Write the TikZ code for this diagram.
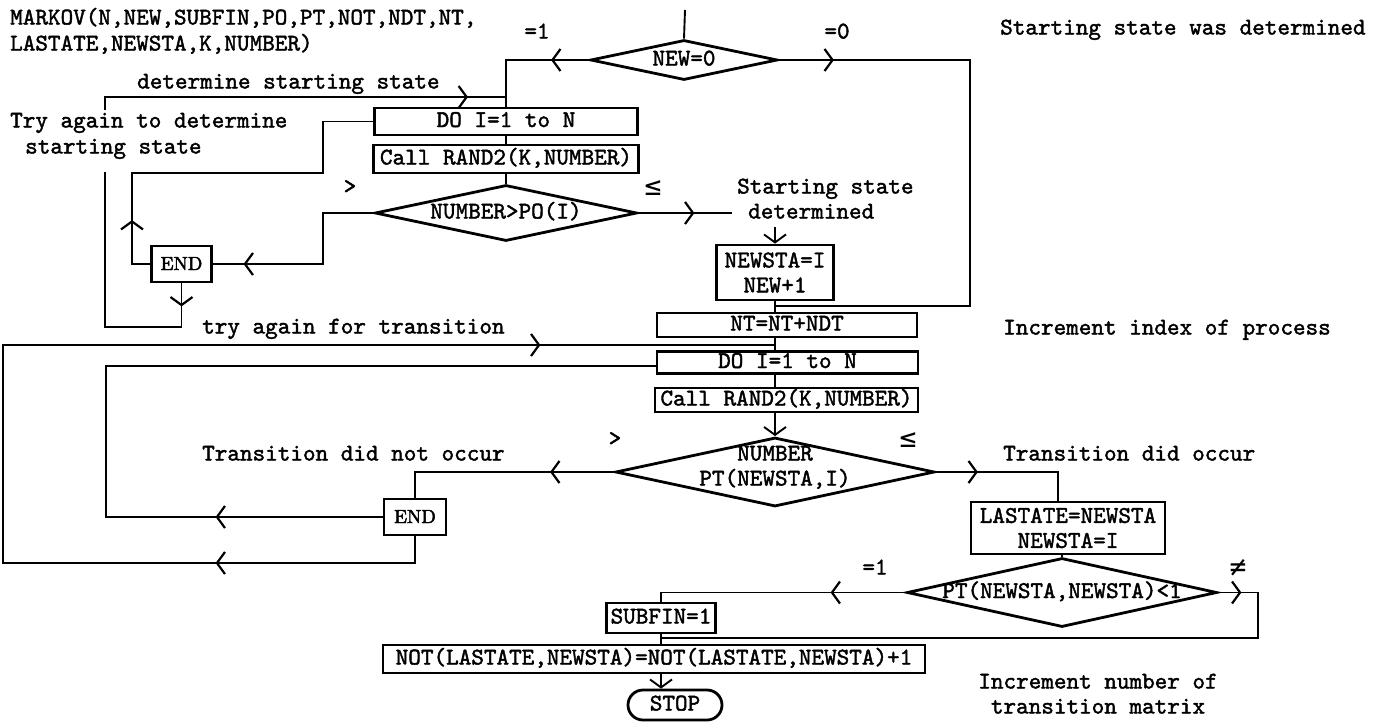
\documentclass[tikz,border=0pt]{standalone}
\usepackage{fontspec}
\usetikzlibrary{shapes.geometric,arrows.meta,decorations.markings}
\newfontfamily\mytypf{lmmono10-regular.otf}[FakeBold=1.7]
\newfontfamily\myromf{lmroman10-regular.otf}[FakeBold=2.5]
\newfontfamily\mysymf{DejaVu Sans Mono}
\newcommand\mytt{\mytypf\fontsize{24}{25}\selectfont}
\newcommand\myrm{\myromf\fontsize{19}{20}\selectfont}
\newcommand\mysym{\mysymf\fontsize{28}{29}\selectfont}
\tikzset{
  ln/.style={line width=1.9pt},
  box/.style={draw,line width=2.8pt,inner sep=0pt,font=\mytt},
  boxone/.style={box,text height=15pt,text depth=4pt},
  endbox/.style={draw,line width=2.8pt,inner sep=0pt,font=\myrm,text height=13pt,text depth=1pt,minimum width=60pt,minimum height=36pt},
  lbl/.style={inner sep=0pt,font=\mytt,text height=15pt,text depth=4pt},
  symlbl/.style={inner sep=0pt,font=\mysym},
  dia/.style={draw,diamond,line width=2.8pt,inner sep=0pt},
  chev/.style={postaction={decorate,decoration={markings,mark=at position #1 with {\arrow{Straight Barb[length=8pt,width=22pt,line width=2.2pt]}}}}},
  tipd/.style={-{Straight Barb[length=8pt,width=22pt]}}
}
\begin{document}
\begin{tikzpicture}[x=1pt,y=-1pt]
\useasboundingbox (0,0) rectangle (1376,721);
% ---------- labels
\node[lbl,anchor=west] (hdr1) at (10,19) {MARKOV(N,NEW,SUBFIN,PO,PT,NOT,NDT,NT,};
\node[lbl,anchor=west] (hdr2) at (10,45) {LASTATE,NEWSTA,K,NUMBER)};
\node[lbl] (eqa) at (537,33) {=1};
\node[lbl] (eqb) at (837,33) {=0};
\node[lbl,anchor=west] (swd) at (1000,29) {Starting state was determined};
\node[lbl,anchor=west] (dss) at (137,83) {determine starting state};
\node[lbl,anchor=west] (traa) at (10,122) {Try again to determine};
\node[lbl,anchor=west] (trab) at (25,148) {starting state};
\node[lbl] (gta) at (350,188) {>};
\node[symlbl] (lea) at (653,188) {≤};
\node[lbl,anchor=west] (sda) at (737,188) {Starting state};
\node[lbl,anchor=west] (sdb) at (748,213) {determined};
\node[lbl,anchor=west] (tat) at (202,328) {try again for transition};
\node[lbl,anchor=west] (iip) at (1003,329) {Increment index of process};
\node[lbl,anchor=west] (tdno) at (202,455) {Transition did not occur};
\node[lbl] (gtb) at (615,440) {>};
\node[symlbl] (leb) at (908,440) {≤};
\node[lbl,anchor=west] (tdo) at (1003,455) {Transition did occur};
\node[lbl] (eqc) at (875,569) {=1};
\node[symlbl] (neq) at (1238,568) {≠};
\node[lbl] (inma) at (1098,683) {Increment number of};
\node[lbl] (inmb) at (1098,708) {transition matrix};
% ---------- shapes
\coordinate (top) at (685,10);
\node[dia,minimum width=187pt,minimum height=40pt] (d0) at (684,60) {};
\node[lbl] (d0t) at (d0) {NEW=0};
\node[boxone,minimum width=263pt,minimum height=27pt] (do1) at (506,121.5) {DO I=1 to N};
\node[boxone,minimum width=265pt,minimum height=28pt] (call1) at (506,159) {Call RAND2(K,NUMBER)};
\node[dia,minimum width=262pt,minimum height=56pt] (d1) at (506,213) {};
\node[lbl] (d1t) at (d1) {NUMBER>PO(I)};
\node[endbox] (end1) at (181.5,264) {END};
\node[box,align=center,minimum width=117pt,minimum height=55pt] (newsta) at (775,272.5) {NEWSTA=I\\NEW+1};
\node[boxone,minimum width=260pt,minimum height=24pt] (nt) at (787,325) {NT=NT+NDT};
\node[boxone,minimum width=261pt,minimum height=22pt] (do2) at (787.5,362.5) {DO I=1 to N};
\node[boxone,minimum width=263pt,minimum height=24pt] (call2) at (786.5,400) {Call RAND2(K,NUMBER)};
\node[dia,minimum width=319pt,minimum height=69pt] (d2) at (775,472) {};
\node[lbl] (d2ta) at (775,455) {NUMBER};
\node[lbl] (d2tb) at (775,480) {PT(NEWSTA,I)};
\node[endbox,minimum width=62pt] (end2) at (415,517) {END};
\node[box,align=center,minimum width=194pt,minimum height=52pt] (last) at (1068,528) {LASTATE=NEWSTA\\NEWSTA=I};
\node[dia,minimum width=310pt,minimum height=69pt] (d3) at (1062,592.5) {};
\node[lbl] (d3t) at (d3) {PT(NEWSTA,NEWSTA)<1};
\node[boxone,minimum width=109pt,minimum height=30pt] (subfin) at (661,618) {SUBFIN=1};
\node[boxone,minimum width=542pt,minimum height=28pt] (notb) at (654,659) {NOT(LASTATE,NEWSTA)=NOT(LASTATE,NEWSTA)+1};
\node[boxone,rounded corners=15pt,minimum width=94pt,minimum height=30pt] (stop) at (675,705) {STOP};
% ---------- connectors
\draw[ln] (top) -- (d0.north);
\coordinate (jA) at (506,60);
\draw[ln,chev=38pt] (d0.west) -- (jA) -- (do1.north);
\coordinate (rA) at (970,60);
\coordinate (rB) at (970,306);
\coordinate (jB) at (775,306);
\draw[ln,chev=55pt] (d0.east) -- (rA) -- (rB) -- (jB);
\coordinate (oA) at (105,110);
\coordinate (oB) at (105,97);
\coordinate (jC) at (506,97);
\draw[ln,chev=376pt] (oA) -- (oB) -- (jC);
\draw[ln] (do1) -- (call1);
\draw[ln] (call1) -- (d1);
\coordinate (pA) at (323,213);
\coordinate (pB) at (323,264);
\draw[ln,chev=181pt] (d1.west) -- (pA) -- (pB) -- (end1.east);
\coordinate (qA) at (132,264);
\coordinate (qB) at (132,173);
\coordinate (qC) at (323,173);
\coordinate (qD) at (323,121.5);
\draw[ln,chev=62pt] (end1.west) -- (qA) -- (qB) -- (qC) -- (qD) -- (do1.west);
\coordinate (uA) at (181.5,327);
\coordinate (uB) at (105,327);
\coordinate (uC) at (105,172);
\draw[ln,chev=23pt] (end1.south) -- (uA) -- (uB) -- (uC);
\coordinate (sA) at (732,213);
\draw[ln,chev=56pt] (d1.east) -- (sA);
\coordinate (sB) at (775,227);
\draw[ln,tipd] (sB) -- (newsta.north);
\draw[ln] (newsta.south) -- (newsta.south |- nt.north);
\draw[ln] (newsta.south |- nt.south) -- (newsta.south |- do2.north);
\draw[ln] (newsta.south |- do2.south) -- (newsta.south |- call2.north);
\draw[ln,tipd] (newsta.south |- call2.south) -- (d2.north);
\coordinate (vA) at (415,563);
\coordinate (vB) at (3,563);
\coordinate (vC) at (3,345);
\coordinate (jD) at (775,345);
\draw[ln,chev=226pt,chev=1194pt] (end2.south) -- (vA) -- (vB) -- (vC) -- (jD);
\coordinate (wA) at (415,472);
\draw[ln,chev=64pt] (d2.west) -- (wA) -- (end2.north);
\coordinate (xA) at (106,517);
\coordinate (xB) at (106,366);
\draw[ln,chev=167pt] (end2.west) -- (xA) -- (xB) -- (do2.west |- xB);
\coordinate (yA) at (1058,472);
\draw[ln,chev=42pt] (d2.east) -- (yA) -- (yA |- last.north);
\draw[ln] (last.south -| d3.north) -- (d3.north);
\coordinate (zA) at (661,592.5);
\draw[ln,chev=75pt] (d3.west) -- (zA) -- (subfin.north);
\coordinate (zB) at (1258,592.5);
\coordinate (zC) at (1258,638);
\coordinate (zD) at (661,638);
\draw[ln,chev=23pt] (d3.east) -- (zB) -- (zC) -- (zD) -- (zD |- notb.north);
\draw[ln] (subfin.south) -- (subfin.south |- notb.north);
\draw[ln,tipd] (notb.south -| zD) -- (stop.north -| zD);
\end{tikzpicture}
\end{document}
